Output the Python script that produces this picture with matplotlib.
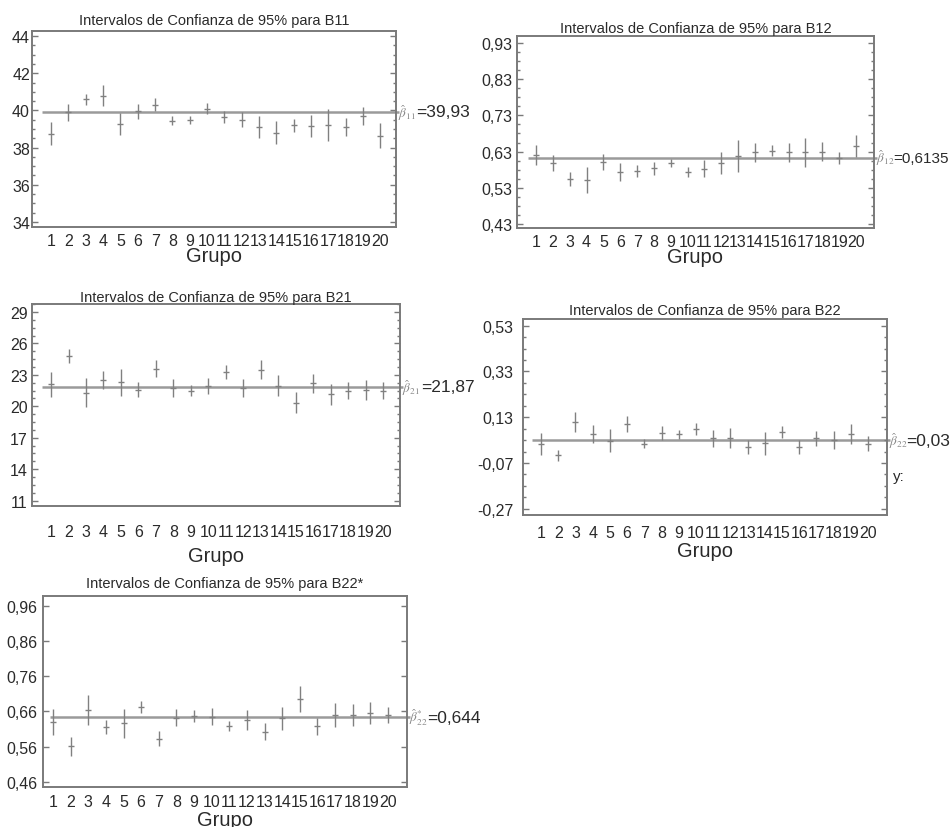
import matplotlib
matplotlib.use('Agg')
import matplotlib.pyplot as plt
from matplotlib.ticker import AutoMinorLocator, FixedLocator, NullLocator

plt.rcParams['font.family'] = ['Liberation Sans', 'DejaVu Sans']
plt.rcParams['mathtext.fontset'] = 'stix'

# ---------------- data ----------------
groups = list(range(1, 21))
group_labels = [str(g) for g in groups]

b11_est = [38.75, 39.9, 40.6, 40.8, 39.27, 39.95, 40.3, 39.45, 39.5, 40.1,
           39.63, 39.5, 39.1, 38.8, 39.2, 39.15, 39.2, 39.1, 39.7, 38.65]
b11_half = [0.6, 0.45, 0.3, 0.55, 0.6, 0.4, 0.35, 0.25, 0.22, 0.3,
            0.33, 0.4, 0.6, 0.62, 0.35, 0.6, 0.85, 0.5, 0.5, 0.65]
b11_ref = 39.93
b11_ticks = [34, 36, 38, 40, 42, 44]

b12_est = [0.62, 0.60, 0.555, 0.552, 0.601, 0.573, 0.577, 0.584, 0.598, 0.574,
           0.583, 0.598, 0.618, 0.628, 0.633, 0.628, 0.628, 0.63, 0.612, 0.646]
b12_half = [0.028, 0.022, 0.02, 0.035, 0.022, 0.025, 0.016, 0.018, 0.011, 0.014,
            0.023, 0.03, 0.043, 0.026, 0.016, 0.027, 0.039, 0.027, 0.017, 0.03]
b12_ref = 0.6135
b12_ticks = [0.43, 0.53, 0.63, 0.73, 0.83, 0.93]

b21_est = [22.1, 24.8, 21.3, 22.5, 22.3, 21.6, 23.6, 21.75, 21.5, 21.95,
           23.25, 21.75, 23.5, 21.95, 20.35, 22.2, 21.15, 21.5, 21.55, 21.5]
b21_half = [1.2, 0.7, 1.4, 0.85, 1.3, 0.7, 0.8, 0.85, 0.55, 0.75,
            0.65, 0.85, 0.9, 1.0, 1.0, 0.9, 1.0, 0.8, 0.95, 0.8]
b21_ref = 21.87
b21_ticks = [11, 14, 17, 20, 23, 26, 29]

b22_est = [0.013, -0.036, 0.11, 0.056, 0.027, 0.10, 0.015, 0.06, 0.055, 0.078,
           0.038, 0.038, 0.0, 0.017, 0.066, 0.0, 0.038, 0.031, 0.058, 0.014]
b22_half = [0.047, 0.024, 0.044, 0.04, 0.05, 0.035, 0.02, 0.03, 0.018, 0.025,
            0.036, 0.043, 0.032, 0.05, 0.027, 0.03, 0.033, 0.04, 0.043, 0.033]
b22_ref = 0.03
b22_ticks = [-0.27, -0.07, 0.13, 0.33, 0.53]

b22s_est = [0.63, 0.561, 0.665, 0.616, 0.626, 0.674, 0.583, 0.642, 0.648, 0.645,
            0.62, 0.636, 0.603, 0.641, 0.695, 0.618, 0.65, 0.65, 0.655, 0.65]
b22s_half = [0.036, 0.028, 0.043, 0.021, 0.04, 0.017, 0.021, 0.024, 0.017, 0.024,
             0.014, 0.028, 0.024, 0.033, 0.037, 0.024, 0.033, 0.031, 0.031, 0.024]
b22s_ref = 0.644
b22s_ticks = [0.46, 0.56, 0.66, 0.76, 0.86, 0.96]

titles = ['Intervalos de Confianza de 95% para B11',
          'Intervalos de Confianza de 95% para B12',
          'Intervalos de Confianza de 95% para B21',
          'Intervalos de Confianza de 95% para B22',
          'Intervalos de Confianza de 95% para B22*']
beta_syms = [r'$\hat{\beta}_{11}$', r'$\hat{\beta}_{12}$', r'$\hat{\beta}_{21}$',
             r'$\hat{\beta}_{22}$', r'$\hat{\beta}^{*}_{22}$']
ref_labels = ['=39,93', '=0,6135', '=21,87', '=0,03', '=0,644']

# ---------------- layout ----------------
W, H = 950, 828
fig = plt.figure(figsize=(W / 100, H / 100), dpi=100)


def rect(l, t, r, b):
    return [l / W, 1 - b / H, (r - l) / W, (b - t) / H]


panels = [
    dict(est=b11_est, half=b11_half, ref=b11_ref, ticks=b11_ticks, dec=0,
         box=(32, 32, 396, 228), xlim=(-0.1, 20.9), ylim=(33.73, 44.27),
         tpad=5.0, xpad=4.0, ypad=1.5, glab=-0.097, minor=True, lstart=0.5,
         voff=20, vsize=12.5),
    dict(est=b12_est, half=b12_half, ref=b12_ref, ticks=b12_ticks, dec=2,
         box=(517, 37, 874, 229), xlim=(-0.13, 21.07), ylim=(0.42, 0.948),
         tpad=3.0, xpad=4.0, ypad=3.0, glab=-0.1, minor=True, lstart=0.5,
         voff=19, vsize=11),
    dict(est=b21_est, half=b21_half, ref=b21_ref, ticks=b21_ticks, dec=0,
         box=(32, 305, 400, 507), xlim=(-0.09, 20.97), ylim=(10.49, 29.76),
         tpad=2.0, xpad=13.0, ypad=3.0, glab=-0.198, minor=True, lstart=0.5,
         voff=21, vsize=12.5),
    dict(est=b22_est, half=b22_half, ref=b22_ref, ticks=b22_ticks, dec=2,
         box=(523, 320, 887, 516), xlim=(-0.05, 21.1), ylim=(-0.297, 0.559),
         tpad=3.6, xpad=7.5, ypad=7.0, glab=-0.133, minor=True, lstart=0.5,
         voff=19, vsize=12.5),
    dict(est=b22s_est, half=b22s_half, ref=b22s_ref, ticks=b22s_ticks, dec=2,
         box=(43, 597, 407, 788), xlim=(0.43, 21.08), ylim=(0.446, 0.987),
         tpad=6.5, xpad=5.0, ypad=4.0, glab=-0.12, minor=False, lstart=0.8,
         voff=20, vsize=12.5),
]

frame_c = '#7a7a7a'
bar_c = '#808080'
line_c = '#9a9a9a'
text_c = '#2a2a2a'

for i, p in enumerate(panels):
    ax = fig.add_axes(rect(*p['box']))
    ax.errorbar(groups, p['est'], yerr=p['half'], fmt='_', ms=5, mew=1.0,
                color=bar_c, ecolor=bar_c, elinewidth=1.0, capsize=0)
    ax.hlines(p['ref'], p['lstart'], p['xlim'][1] + 0.15, colors=line_c,
              linewidth=1.8, clip_on=False, zorder=1)
    ax.set_xlim(*p['xlim'])
    ax.set_ylim(*p['ylim'])

    ax.set_xticks(groups)
    ax.set_xticklabels(group_labels)
    ax.yaxis.set_major_locator(FixedLocator(p['ticks']))
    if p['dec'] == 0:
        ylabels = [str(v) for v in p['ticks']]
    else:
        ylabels = [f"{v:.2f}".replace('.', ',') for v in p['ticks']]
    ax.set_yticklabels(ylabels)
    if p['minor']:
        ax.yaxis.set_minor_locator(AutoMinorLocator(4))
    else:
        ax.yaxis.set_minor_locator(NullLocator())

    ax.tick_params(axis='x', length=0, pad=p['xpad'], labelsize=11.5,
                   labelcolor=text_c)
    ax.tick_params(axis='y', which='both', direction='in', left=True,
                   right=True, color=frame_c, width=1.0, pad=p['ypad'],
                   labelsize=11.5, labelcolor=text_c)
    ax.tick_params(axis='y', which='major', length=4)
    ax.tick_params(axis='y', which='minor', length=2.2)
    for s in ax.spines.values():
        s.set_color(frame_c)
        s.set_linewidth(1.4)

    ax.set_title(titles[i], fontsize=10.5, color=text_c, pad=p['tpad'])
    ax.set_xlabel('Grupo', fontsize=14.5, color=text_c)
    ax.xaxis.set_label_coords(0.5, p['glab'])

    trans = ax.get_yaxis_transform()
    wpx = p['box'][2] - p['box'][0]
    ax.text(1 + 2 / wpx, p['ref'], beta_syms[i], transform=trans,
            ha='left', va='center', fontsize=9.5, color='#888888',
            clip_on=False)
    ax.text(1 + p['voff'] / wpx, p['ref'], ref_labels[i], transform=trans,
            ha='left', va='center', fontsize=p['vsize'], color=text_c,
            clip_on=False)

fig.text(893 / W, 1 - 477 / H, 'y:', ha='left', va='center', fontsize=11,
         color=text_c)

fig.savefig('out.png', dpi=100, facecolor='white')
